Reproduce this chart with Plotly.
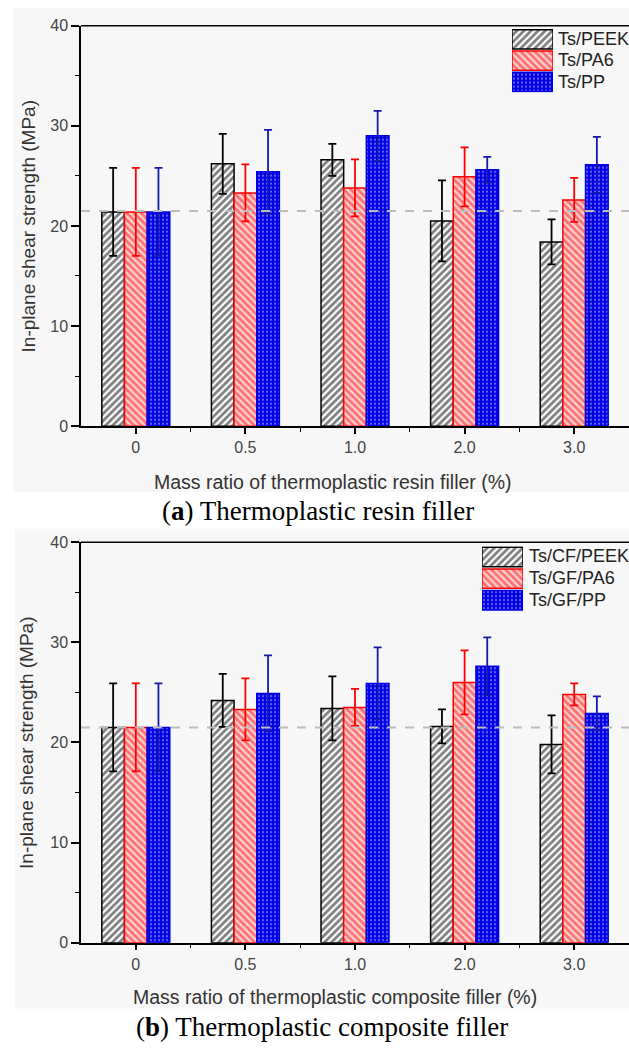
import plotly.graph_objects as go

W, H = 629, 1052

# ---------------- data ----------------
categories = ["0", "0.5", "1.0", "2.0", "3.0"]
cat_pos = [0, 1, 2, 3, 4]

series_a = ["Ts/PEEK", "Ts/PA6", "Ts/PP"]
peek_a = [21.4, 26.2, 26.6, 20.5, 18.4]
peek_a_err = [4.4, 3.0, 1.6, 4.05, 2.25]
pa6_a = [21.4, 23.3, 23.8, 24.9, 22.6]
pa6_a_err = [4.4, 2.85, 2.85, 2.95, 2.2]
pp_a = [21.4, 25.4, 29.0, 25.6, 26.1]
pp_a_err = [4.4, 4.2, 2.5, 1.3, 2.8]

series_b = ["Ts/CF/PEEK", "Ts/GF/PA6", "Ts/GF/PP"]
peek_b = [21.5, 24.2, 23.4, 21.6, 19.8]
peek_b_err = [4.4, 2.65, 3.2, 1.7, 2.9]
pa6_b = [21.5, 23.3, 23.5, 26.0, 24.8]
pa6_b_err = [4.4, 3.1, 1.85, 3.2, 1.1]
pp_b = [21.5, 24.9, 25.9, 27.6, 22.9]
pp_b_err = [4.4, 3.8, 3.6, 2.9, 1.7]

reference_level = 21.5
y_ticks = [0, 10, 20, 30, 40]

# ---------------- styles ----------------
styles = [
    dict(line="#000000", err="#000000",
         pattern=dict(shape="/", fgcolor="#000000", bgcolor="#ffffff", size=5, solidity=0.55)),
    dict(line="#ff0000", err="#ff0000",
         pattern=dict(shape="\\", fgcolor="#ff1010", bgcolor="#ffd2d2", size=5, solidity=0.55)),
    dict(line="#0000e0", err="#1818a8",
         pattern=dict(shape=".", fgcolor="#c8c8ff", bgcolor="#0000e6", size=4, solidity=0.25)),
]

def px(x):
    return x / W

def py(y):
    return 1 - y / H

fig = go.Figure()

panels = [
    ("x", "y", series_a, [(peek_a, peek_a_err), (pa6_a, pa6_a_err), (pp_a, pp_a_err)]),
    ("x2", "y2", series_b, [(peek_b, peek_b_err), (pa6_b, pa6_b_err), (pp_b, pp_b_err)]),
]

for xa, ya, names, data in panels:
    for i, (vals, errs) in enumerate(data):
        st = styles[i]
        fig.add_trace(go.Bar(
            x=cat_pos, y=vals, name=names[i], xaxis=xa, yaxis=ya,
            offsetgroup=str(i), showlegend=False,
            marker=dict(color=st["pattern"]["bgcolor"], pattern=st["pattern"],
                        line=dict(color=st["line"], width=1.5)),
            error_y=dict(type="data", array=errs, color=st["err"], thickness=1.8, width=4),
        ))

# legend swatches drawn as bars on small auxiliary axes
legend_axes = [("x3", "y3", series_a), ("x4", "y4", series_b)]
for xa, ya, names in legend_axes:
    for i, nm in enumerate(names):
        st = styles[i]
        fig.add_trace(go.Bar(
            x=[1], y=[i], orientation="h", xaxis=xa, yaxis=ya, showlegend=False,
            width=0.9, hoverinfo="skip",
            marker=dict(color=st["pattern"]["bgcolor"], pattern=st["pattern"],
                        line=dict(color=st["line"], width=1.5)),
        ))

xdom = [px(81), 1.0]
top_dom = [py(425), py(18)]
bot_dom = [py(950), py(543)]

tickfont = dict(family="Liberation Sans, Arial, sans-serif", size=16, color="#444444")

def xaxis_cfg(anchor, dom):
    return dict(domain=dom, anchor=anchor, range=[-0.5, 4.5], tickmode="array",
                tickvals=cat_pos, ticktext=categories, ticks="outside", ticklen=6,
                tickwidth=1.5, tickcolor="#000", showline=True, linecolor="#000",
                linewidth=1.5, showgrid=False, zeroline=False, tickfont=tickfont,
                minor=dict(tickmode="array", tickvals=[0.5, 1.5, 2.5, 3.5],
                           ticks="outside", ticklen=4, tickwidth=1.2, tickcolor="#000",
                           showgrid=False))

def yaxis_cfg(anchor, dom):
    return dict(domain=dom, anchor=anchor, range=[0, 40], tickmode="array",
                tickvals=y_ticks, ticks="outside", ticklen=8, tickwidth=1.5,
                tickcolor="#000", showline=True, linecolor="#000", linewidth=1.5,
                showgrid=False, zeroline=False, tickfont=tickfont,
                minor=dict(tickmode="array", tickvals=[5, 15, 25, 35], ticks="outside",
                           ticklen=4, tickwidth=1.2, tickcolor="#000", showgrid=False))

hidden = dict(visible=False, showgrid=False, zeroline=False)

fig.update_layout(
    width=W, height=H,
    margin=dict(l=0, r=0, t=0, b=0),
    paper_bgcolor="#ffffff", plot_bgcolor="rgba(0,0,0,0)",
    barmode="group", bargap=0.38, bargroupgap=0.0,
    showlegend=False,
    xaxis=xaxis_cfg("y", xdom),
    yaxis=yaxis_cfg("x", top_dom),
    xaxis2=xaxis_cfg("y2", xdom),
    yaxis2=yaxis_cfg("x2", bot_dom),
    xaxis3=dict(domain=[px(512), px(553)], anchor="y3", range=[0, 1], **hidden),
    yaxis3=dict(domain=[py(86), py(21)], anchor="x3", range=[2.5, -0.5], **hidden),
    xaxis4=dict(domain=[px(482), px(523)], anchor="y4", range=[0, 1], **hidden),
    yaxis4=dict(domain=[py(613), py(547)], anchor="x4", range=[2.5, -0.5], **hidden),
)

shapes = [
    # gray image backgrounds
    dict(type="rect", xref="paper", yref="paper", x0=px(13), x1=1, y0=py(492), y1=1,
         fillcolor="#f7f7f7", line=dict(width=0), layer="below"),
    dict(type="rect", xref="paper", yref="paper", x0=px(15), x1=1, y0=py(1017), y1=py(529),
         fillcolor="#f7f7f7", line=dict(width=0), layer="below"),
]
for xa, ya in [("x", "y"), ("x2", "y2")]:
    # top frame line
    shapes.append(dict(type="line", xref=f"{xa} domain", yref=f"{ya} domain",
                       x0=0, x1=1, y0=1, y1=1, line=dict(color="#000", width=1.5)))
    # dashed reference line
    shapes.append(dict(type="line", xref=f"{xa} domain", yref=ya, x0=0, x1=1,
                       y0=reference_level, y1=reference_level, layer="above",
                       line=dict(color="#bcbcbc", width=2, dash="dash")))
fig.update_layout(shapes=shapes)

sans = "Liberation Sans, Arial, sans-serif"
serif = "Liberation Serif, Times New Roman, serif"
annotations = [
    dict(text="In-plane shear strength (MPa)", x=px(28), y=py(222), textangle=-90,
         font=dict(family=sans, size=19, color="#333333")),
    dict(text="In-plane shear strength (MPa)", x=px(27), y=py(747), textangle=-90,
         font=dict(family=sans, size=19, color="#333333")),
    dict(text="Mass ratio of thermoplastic resin filler (%)", x=px(333), y=py(482),
         font=dict(family=sans, size=19.5, color="#333333")),
    dict(text="Mass ratio of thermoplastic composite filler (%)", x=px(335), y=py(1005),
         font=dict(family=sans, size=19.5, color="#333333")),
    dict(text="(<b>a</b>) Thermoplastic resin filler", x=px(318), y=py(511),
         font=dict(family=serif, size=27, color="#000000")),
    dict(text="(<b>b</b>) Thermoplastic composite filler", x=px(322), y=py(1036),
         font=dict(family=serif, size=27, color="#000000")),
]
top_rows = [31.5, 53, 75.5]
bot_rows = [557, 579, 602]
for i, nm in enumerate(series_a):
    annotations.append(dict(text=nm, x=px(556), y=py(top_rows[i]), xanchor="left",
                            font=dict(family=sans, size=18, color="#222222")))
for i, nm in enumerate(series_b):
    annotations.append(dict(text=nm, x=px(527), y=py(bot_rows[i]), xanchor="left",
                            font=dict(family=sans, size=18, color="#222222")))
for a in annotations:
    a.setdefault("xref", "paper")
    a.setdefault("yref", "paper")
    a.setdefault("showarrow", False)
    a.setdefault("yanchor", "middle")
    a.setdefault("xanchor", "center")
fig.update_layout(annotations=annotations)

fig.write_html("out.html")
